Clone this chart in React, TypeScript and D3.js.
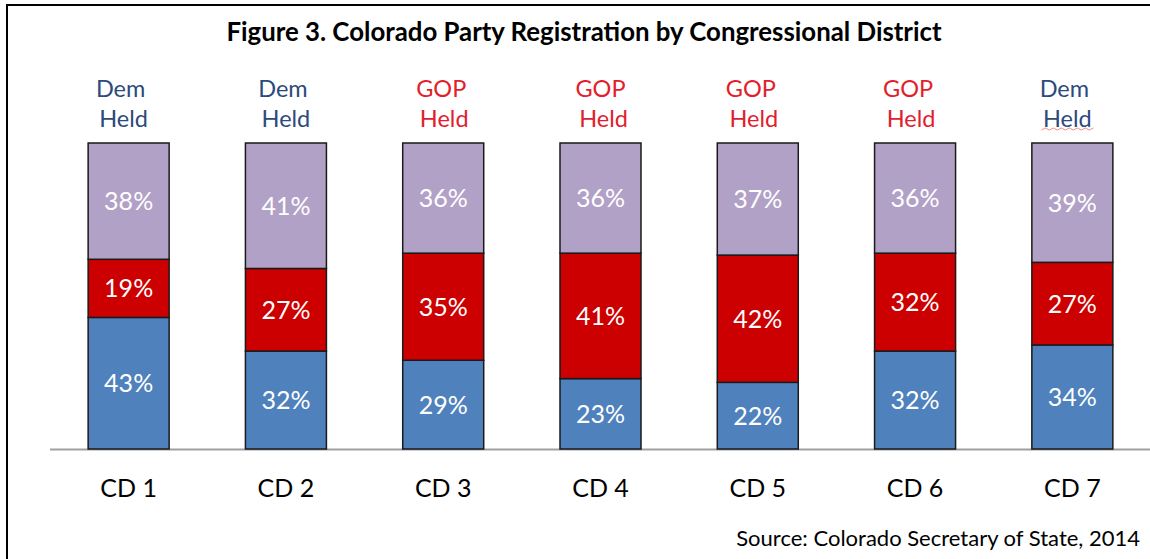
import * as d3 from 'd3';

// Colorado party registration by congressional district (percent)
const districts = ["CD 1", "CD 2", "CD 3", "CD 4", "CD 5", "CD 6", "CD 7"];
const dem = [43, 32, 29, 23, 22, 32, 34];
const gop = [19, 27, 35, 41, 42, 32, 27];
const other = [38, 41, 36, 36, 37, 36, 39];
const heldBy = ["Dem", "Dem", "GOP", "GOP", "GOP", "GOP", "Dem"];

const seriesKeys = ["dem", "gop", "other"];
const colors: Record<string, string> = { dem: "#4F81BD", gop: "#CC0000", other: "#B2A1C7" };
const heldColors: Record<string, string> = { Dem: "#2C4A7C", GOP: "#E2202C" };
// the held-by text boxes are not quite centred over the bars
const heldNudge = [-8, -3, -2, 0, -7, -7, -8];

export default function App() {
    const width = 1150;
    const height = 559;
    const baseY = 449;
    const topY = 143;
    const font = "Lato, 'Open Sans', sans-serif";

    const rows = districts.map((d, i) => ({ district: d, dem: dem[i], gop: gop[i], other: other[i] }));

    const x = d3.scaleBand()
        .domain(districts)
        .range([50, 1151])
        .paddingInner(0.485)
        .paddingOuter(0.2425);

    const y = d3.scaleLinear().domain([0, 1]).range([baseY, topY]);

    const stack = d3.stack<any>()
        .keys(seriesKeys)
        .offset(d3.stackOffsetExpand);
    const series = stack(rows);

    return (
        <svg width={width} height={height} style={{ position: "absolute", left: 0, top: 0, display: "block", background: "#fff" }}>
            {/* outer frame */}
            <rect x={7} y={5} width={1200} height={600} fill="none" stroke="#000" strokeWidth={2} />

            <text x={584} y={41} textAnchor="middle" fontFamily={font} fontWeight="bold" fontSize={25.8} fill="#000">
                Figure 3. Colorado Party Registration by Congressional District
            </text>

            {/* held-by labels */}
            {districts.map((d, i) => {
                const cx = (x(d) || 0) + x.bandwidth() / 2 + heldNudge[i];
                return (
                    <g key={d} fontFamily={font} fontSize={23.5} fill={heldColors[heldBy[i]]} textAnchor="middle">
                        <text x={cx} y={97}>{heldBy[i]}</text>
                        <text x={cx + 3} y={127}>Held</text>
                        {i === 6 && (
                            <path
                                d={d3.range(0, 14).map((k) => `${k === 0 ? "M" : "L"}${cx + 3 - 26 + k * 4},${k % 2 === 0 ? 130 : 128}`).join("")}
                                fill="none" stroke="#F07070" strokeWidth={0.8}
                            />
                        )}
                    </g>
                );
            })}

            {/* axis baseline */}
            <line x1={50} x2={1150} y1={baseY + 0.5} y2={baseY + 0.5} stroke="#A0A0A0" strokeWidth={2} />

            {/* stacked bars */}
            {series.map((s) => (
                <g key={s.key} fill={colors[s.key]}>
                    {s.map((seg, i) => (
                        <rect
                            key={i}
                            x={x(seg.data.district)}
                            y={y(seg[1])}
                            width={x.bandwidth()}
                            height={y(seg[0]) - y(seg[1])}
                            stroke="#1A1A1A"
                            strokeWidth={1.5}
                        />
                    ))}
                </g>
            ))}

            {/* segment value labels */}
            {series.map((s) => (
                <g key={s.key + "-lbl"} fontFamily={font} fontSize={25} fill="#fff" textAnchor="middle">
                    {s.map((seg, i) => (
                        <text
                            key={i}
                            x={(x(seg.data.district) || 0) + x.bandwidth() / 2}
                            y={(y(seg[0]) + y(seg[1])) / 2}
                            dy="0.36em"
                        >
                            {seg.data[s.key]}%
                        </text>
                    ))}
                </g>
            ))}

            {/* category labels */}
            {districts.map((d) => (
                <text key={d + "-cat"} x={(x(d) || 0) + x.bandwidth() / 2} y={497} textAnchor="middle"
                    fontFamily={font} fontSize={25} fill="#000">
                    {d}
                </text>
            ))}

            <text x={1140} y={546} textAnchor="end" fontFamily={font} fontSize={22} fill="#000">
                Source: Colorado Secretary of State, 2014
            </text>
        </svg>
    );
}
